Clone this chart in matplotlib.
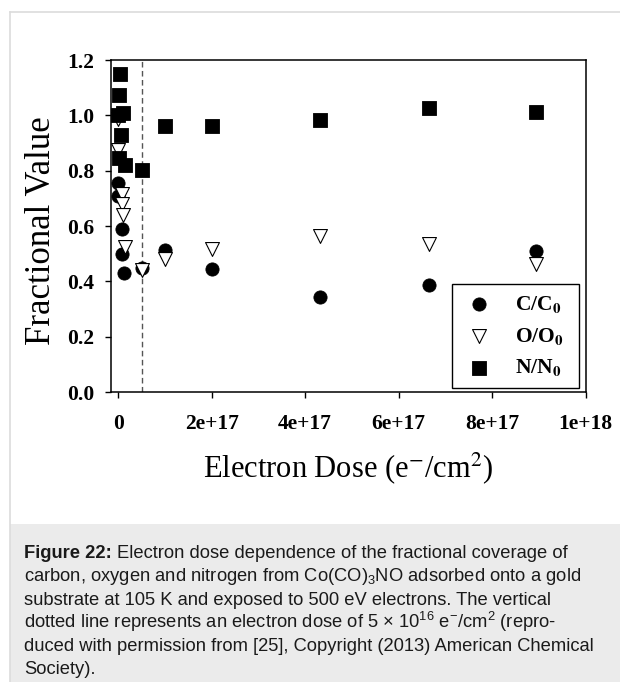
import matplotlib
matplotlib.use("Agg")
import matplotlib.pyplot as plt
from matplotlib.font_manager import FontProperties
from matplotlib.patches import Rectangle
from matplotlib.lines import Line2D

plt.rcParams["mathtext.fontset"] = "custom"
plt.rcParams["mathtext.rm"] = "Liberation Sans"
plt.rcParams["mathtext.bf"] = "Liberation Sans:bold"
plt.rcParams["mathtext.it"] = "Liberation Sans:italic"

# ---- data: electron dose (e-/cm^2) and fractional values ----
c_dose = [0, 0, 0.73e16, 0.73e16, 1.28e16, 5e16, 1.0e17, 2.0e17, 4.32e17, 6.64e17, 8.94e17]
c_frac = [0.756, 0.71, 0.588, 0.50, 0.43, 0.45, 0.515, 0.446, 0.343, 0.386, 0.51]

o_dose = [0, 0, 0.73e16, 0.73e16, 0.94e16, 1.43e16, 5e16, 1.0e17, 2.0e17, 4.32e17, 6.64e17, 8.94e17]
o_frac = [0.985, 0.874, 0.717, 0.678, 0.639, 0.524, 0.44, 0.482, 0.518, 0.563, 0.536, 0.464]

n_dose = [0, 0.15e16, 0.36e16, 0.51e16, 1.07e16, 0.05e16, 1.43e16, 5e16, 1.0e17, 2.0e17, 4.32e17, 6.64e17, 8.94e17]
n_frac = [1.003, 1.075, 1.151, 0.93, 1.01, 0.844, 0.82, 0.804, 0.963, 0.963, 0.982, 1.028, 1.012]

series_labels = [r"C/C$_\mathbf{0}$", r"O/O$_\mathbf{0}$", r"N/N$_\mathbf{0}$"]
marker_dose = 5e16

x_ticks = [0, 2e17, 4e17, 6e17, 8e17, 1e18]
x_ticklabels = ["0", "2e+17", "4e+17", "6e+17", "8e+17", "1e+18"]
y_ticks = [0.0, 0.2, 0.4, 0.6, 0.8, 1.0, 1.2]
y_ticklabels = ["0.0", "0.2", "0.4", "0.6", "0.8", "1.0", "1.2"]

caption_head = "Figure 22:"
caption_lines = [
    "Electron dose dependence of the fractional coverage of",
    r"carbon, oxygen and nitrogen from Co(CO)$_3$NO adsorbed onto a gold",
    "substrate at 105 K and exposed to 500 eV electrons. The vertical",
    r"dotted line represents an electron dose of 5 × 10$^{16}$ e$^{-}$/cm$^2$ (repro-",
    "duced with permission from [25], Copyright (2013) American Chemical",
    "Society).",
]

W, H = 620, 682
fig = plt.figure(figsize=(W / 100, H / 100), dpi=100)
fig.patch.set_facecolor("white")

# page frame and caption panel
fig.add_artist(Line2D([9.5 / W, 9.5 / W], [0, 1 - 12 / H], transform=fig.transFigure,
                      color="#dcdcdc", lw=1.2))
fig.add_artist(Line2D([9.5 / W, 1], [1 - 12 / H, 1 - 12 / H], transform=fig.transFigure,
                      color="#dcdcdc", lw=1.2))
fig.add_artist(Rectangle((10 / W, 0), 1, 1 - 524 / H, transform=fig.transFigure,
                         facecolor="#ebebeb", edgecolor="none", zorder=0))

ax = fig.add_axes([111 / W, 1 - 392 / H, 474.5 / W, 332 / H])

serif = "Liberation Serif"
ax.scatter(c_dose, c_frac, marker="o", s=9.5 ** 2, facecolor="black", edgecolor="black",
           linewidth=0.6, label=series_labels[0], zorder=3)
ax.scatter(o_dose, o_frac, marker="v", s=10 ** 2, facecolor="white", edgecolor="black",
           linewidth=0.8, label=series_labels[1], zorder=4)
ax.scatter(n_dose, n_frac, marker="s", s=10 ** 2, facecolor="black", edgecolor="black",
           linewidth=0.6, label=series_labels[2], zorder=5)

ax.axvline(marker_dose, color="#555555", lw=1.0, ls=(0, (4, 2.5)), zorder=2)

ax.set_xlim(-1.56e16, 1e18)
ax.set_ylim(0, 1.2)
ax.set_xticks(x_ticks)
ax.set_xticklabels(x_ticklabels)
ax.set_yticks(y_ticks)
ax.set_yticklabels(y_ticklabels)
ax.tick_params(direction="out", length=4, width=1.0, color="black", top=False, right=False)
ax.tick_params(axis="x", pad=12)
ax.tick_params(axis="y", pad=8)
for lab in ax.get_xticklabels() + ax.get_yticklabels():
    lab.set_fontfamily(serif)
    lab.set_fontweight("bold")
    lab.set_fontsize(15.5)
for sp in ax.spines.values():
    sp.set_linewidth(1.1)
    sp.set_color("black")

ax.set_xlabel(r"Electron Dose (e$^{-}$/cm$^{2}$)", fontfamily=serif, fontsize=22,
              math_fontfamily="stix")
ax.xaxis.label.set_va("baseline")
ax.xaxis.set_label_coords(0.5, -85 / 332)
ax.set_ylabel("Fractional Value", fontfamily=serif, fontsize=25)
ax.yaxis.label.set_va("center")
ax.yaxis.set_label_coords(-69 / 474.5, 0.485)

leg_prop = FontProperties(family=serif, weight="bold", size=15.5, math_fontfamily="stix")
leg = ax.legend(loc="lower left", bbox_to_anchor=(0.718, 0.011, 0.269, 0.318),
                mode="expand", borderaxespad=0, prop=leg_prop, frameon=True,
                fancybox=False, edgecolor="black", framealpha=1, handletextpad=0.9,
                handlelength=1.6, labelspacing=0.5, borderpad=0.46, scatterpoints=1)
leg.get_frame().set_linewidth(1.0)

# caption: bold lead-in followed by the running text
cap_x = 24 / W
cap_size = 13.2
cap_color = "#1a1a1a"
line_y = [1 - (558 + 23.3 * i) / H for i in range(len(caption_lines))]
head = fig.text(cap_x, line_y[0], caption_head, fontfamily="Liberation Sans",
                fontweight="bold", fontsize=cap_size, color=cap_color, va="baseline")
renderer = fig.canvas.get_renderer()
head_right = head.get_window_extent(renderer).x1 / W
space = 0.28 * cap_size * 100 / 72 / W
for i, line in enumerate(caption_lines):
    x = head_right + space if i == 0 else cap_x
    fig.text(x, line_y[i], line, fontfamily="Liberation Sans", fontsize=cap_size,
             color=cap_color, va="baseline", ha="left")

fig.savefig("out.png", dpi=100, facecolor="white")
